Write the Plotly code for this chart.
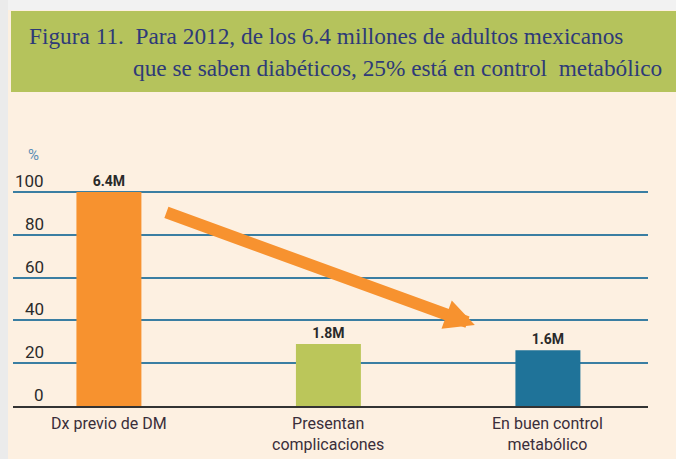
import plotly.graph_objects as go

categories = ["Dx previo de DM", "Presentan complicaciones", "En buen control metabólico"]
category_labels = ["Dx previo de DM", "Presentan<br>complicaciones", "En buen control<br>metabólico"]
values = [100, 29, 26]
value_labels = ["6.4M", "1.8M", "1.6M"]
bar_colors = ["#F7922F", "#BBC65A", "#1F7399"]
y_ticks = [0, 20, 40, 60, 80, 100]
title_line1 = "Figura 11.  Para 2012, de los 6.4 millones de adultos mexicanos"
title_line2 = "que se saben diabéticos, 25% está en control  metabólico"
arrow_from = (0.255, 90.7)
arrow_to = (1.667, 37.9)

W, H = 676, 459
L, R, T, B = 13, 28, 150, 53
pw, ph = W - L - R, H - T - B

def px(x):
    return (x - L) / pw

def py(y):
    return (H - B - y) / ph

narrow = "Liberation Sans Narrow, Roboto, sans-serif"
serif = "Liberation Serif, DejaVu Serif, serif"

fig = go.Figure()
fig.add_trace(go.Bar(
    x=categories, y=values,
    marker=dict(color=bar_colors, line=dict(width=0)),
    text=value_labels, textposition="outside", cliponaxis=False,
    textfont=dict(family=narrow, size=14, color="#2a2a2a", weight="bold"),
    hoverinfo="skip",
))

annotations = []
for t in y_ticks:
    annotations.append(dict(
        x=px(46), xref="paper", y=t, yref="y", text=str(t), showarrow=False,
        xanchor="right", yanchor="bottom", yshift=-1,
        font=dict(family=narrow, size=17, color="#2b2b2b"),
    ))
for c, lab in zip(categories, category_labels):
    annotations.append(dict(
        x=c, xref="x", y=0, yref="y", text=lab, showarrow=False,
        xanchor="center", yanchor="top", yshift=-6,
        font=dict(family=narrow, size=16, color="#3A2E3A"),
    ))
annotations.append(dict(
    x=px(33), xref="paper", y=py(155), yref="paper", text="%", showarrow=False,
    xanchor="center", yanchor="middle", font=dict(family=narrow, size=15, color="#5A8DB5"),
))
annotations.append(dict(
    x=px(27), xref="paper", y=py(36), yref="paper", text=title_line1, showarrow=False,
    xanchor="left", yanchor="middle", font=dict(family=serif, size=23.3, color="#2E3A78"),
))
annotations.append(dict(
    x=px(131), xref="paper", y=py(68), yref="paper", text=title_line2, showarrow=False,
    xanchor="left", yanchor="middle", font=dict(family=serif, size=23.3, color="#2E3A78"),
))
annotations.append(dict(
    x=arrow_to[0], y=arrow_to[1], xref="x", yref="y",
    ax=arrow_from[0], ay=arrow_from[1], axref="x", ayref="y",
    text="", showarrow=True, arrowhead=2, arrowsize=0.5, arrowwidth=12,
    arrowcolor="#F7922F",
))

shapes = [
    dict(type="rect", xref="paper", yref="paper", x0=px(0), x1=px(W), y0=py(10), y1=py(0),
         fillcolor="#F2F2F2", line=dict(width=0), layer="below"),
    dict(type="rect", xref="paper", yref="paper", x0=px(0), x1=px(8), y0=py(H), y1=py(0),
         fillcolor="#EBEBEB", line=dict(width=0), layer="below"),
    dict(type="rect", xref="paper", yref="paper", x0=px(11), x1=px(W), y0=py(92), y1=py(11),
         fillcolor="#B5C35C", line=dict(width=0), layer="below"),
]

fig.update_layout(
    width=W, height=H,
    margin=dict(l=L, r=R, t=T, b=B, autoexpand=False),
    paper_bgcolor="#FDF0E1", plot_bgcolor="#FDF0E1",
    showlegend=False, bargap=0.704,
    annotations=annotations, shapes=shapes,
    xaxis=dict(
        range=[-0.437, 2.456], showgrid=False, zeroline=False,
        showline=True, linecolor="#333333", linewidth=2,
        ticks="", showticklabels=False, automargin=False,
        fixedrange=True,
    ),
    yaxis=dict(
        range=[0, ph / 2.14], showgrid=True, gridcolor="#3A7EA2", gridwidth=2,
        tickvals=y_ticks, showticklabels=False, zeroline=False, fixedrange=True,
        automargin=False,
    ),
)

fig.write_html("out.html", config={"displayModeBar": False},
               post_script="document.body.style.margin='0';document.body.style.overflow='hidden';")
